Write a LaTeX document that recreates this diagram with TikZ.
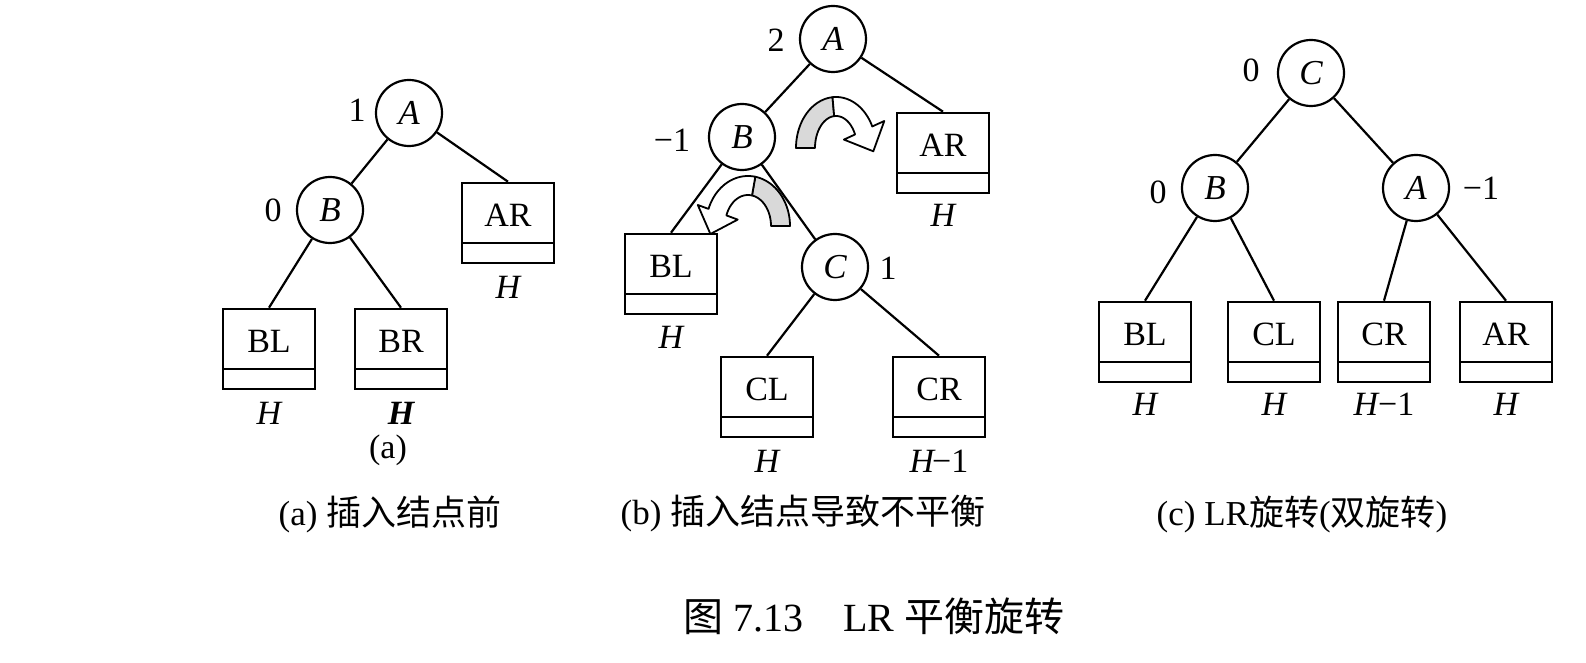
\documentclass[tikz,border=0pt]{standalone}
\usepackage{fontspec}
\setmainfont{Liberation Serif}
\newfontfamily\cjk{Noto Sans CJK SC}
\usetikzlibrary{calc}
\begin{document}
\begin{tikzpicture}[x=0.5pt,y=-0.5pt,
  every node/.style={font=\fontsize{17}{20}\selectfont},
  vert/.style={circle, draw, line width=1.1pt, minimum size=33pt, inner sep=0pt, font=\fontsize{17.5}{20}\selectfont\itshape},
  sub/.style={rectangle, draw, line width=1.3pt, minimum width=46pt, minimum height=40pt, inner sep=0pt,
    text height=12pt, text depth=8.8pt,
    path picture={\draw[line width=1.3pt] ([yshift=10pt]path picture bounding box.south west) -- ([yshift=10pt]path picture bounding box.south east);}},
  link/.style={line width=1.1pt},
  bal/.style={inner sep=0pt},
  ht/.style={inner sep=0pt, font=\fontsize{17}{20}\selectfont\itshape},
  captext/.style={inner sep=0pt, font=\fontsize{17.5}{20}\selectfont},
  ttl/.style={inner sep=0pt, font=\fontsize{20}{24}\selectfont},
  back/.style={fill=gray!30, draw, line width=0.9pt, line join=round},
  front/.style={fill=white, draw, line width=0.9pt, line join=round}
]
\useasboundingbox (0,0) rectangle (1586,663);

% ---------- (a) ----------
\node[vert] (aA) at (409,113) {A};
\node[vert] (aB) at (330,210) {B};
\node[sub] (aAR) at (508,223) {AR};
\node[sub] (aBL) at (269,349) {BL};
\node[sub] (aBR) at (401,349) {BR};
\node[bal] (aAb) at (357,110) {1};
\node[bal] (aBb) at (273,210) {0};
\node[ht] (aARh) at ([yshift=-11.5pt]aAR.south) {H};
\node[ht] (aBLh) at ([yshift=-11.5pt]aBL.south) {H};
\node[ht] (aBRh) at ([yshift=-11.5pt]aBR.south) {\bfseries H};
\node[bal] (alab) at (388,450) {(a)};
\draw[link] (aA) -- (aB);
\draw[link] (aA) -- (aAR.north);
\draw[link] (aB) -- (aBL.north);
\draw[link] (aB) -- (aBR.north);
\node[captext] (capa) at (390,514) {(a) {\cjk 插入结点前}};

% ---------- (b) ----------
\node[vert] (bA) at (833,39) {A};
\node[vert] (bB) at (742,137) {B};
\node[vert] (bC) at (835,267) {C};
\node[sub] (bAR) at (943,153) {AR};
\node[sub] (bBL) at (671,274) {BL};
\node[sub] (bCL) at (767,397) {CL};
\node[sub] (bCR) at (939,397) {CR};
\node[bal] (bAb) at (776,40) {2};
\node[bal] (bBb) at (672,140) {−1};
\node[bal] (bCb) at (888,268) {1};
\node[ht] (bARh) at ([yshift=-10.5pt]bAR.south) {H};
\node[ht] (bBLh) at ([yshift=-11pt]bBL.south) {H};
\node[ht] (bCLh) at ([yshift=-11.5pt]bCL.south) {H};
\node[ht] (bCRh) at ([yshift=-11.5pt]bCR.south) {H\kern-1pt\upshape −1};
\draw[link] (bA) -- (bB);
\draw[link] (bA) -- (bAR.north);
\draw[link] (bB) -- (bBL.north);
\draw[link] (bB) -- (bC);
\draw[link] (bC) -- (bCL.north);
\draw[link] (bC) -- (bCR.north);
% rotation arrow near A
\filldraw[back] plot[domain=180:95,samples=25] ({836+40*cos(\x)},{148-51*sin(\x)})
  -- plot[domain=95:180,samples=25] ({836+21*cos(\x)},{148-32*sin(\x)}) -- cycle;
\filldraw[front] plot[domain=95:25,samples=25] ({836+40*cos(\x)},{148-51*sin(\x)})
  -- (884.3,121.0) -- (873.3,151.3) -- (843.9,139.6)
  -- plot[domain=25:95,samples=25] ({836+21*cos(\x)},{148-32*sin(\x)}) -- cycle;
% rotation arrow near B
\filldraw[back] plot[domain=0:80,samples=25] ({748+42*cos(\x)},{226-50*sin(\x)})
  -- plot[domain=80:0,samples=25] ({748+23*cos(\x)},{226-31*sin(\x)}) -- cycle;
\filldraw[front] plot[domain=80:160,samples=25] ({748+42*cos(\x)},{226-50*sin(\x)})
  -- (697.8,205.0) -- (710.4,234) -- (737.7,219.6)
  -- plot[domain=160:80,samples=25] ({748+23*cos(\x)},{226-31*sin(\x)}) -- cycle;
\node[captext] (capb) at (803,514) {(b) {\cjk 插入结点导致不平衡}};

% ---------- (c) ----------
\node[vert] (cC) at (1311,73) {C};
\node[vert] (cB) at (1215,188) {B};
\node[vert] (cA) at (1416,188) {A};
\node[sub] (cBL) at (1145,342) {BL};
\node[sub] (cCL) at (1274,342) {CL};
\node[sub] (cCR) at (1384,342) {CR};
\node[sub] (cAR) at (1506,342) {AR};
\node[bal] (cCb) at (1251,70) {0};
\node[bal] (cBb) at (1158,192) {0};
\node[bal] (cAb) at (1481,188) {−1};
\node[ht] (cBLh) at ([yshift=-10.5pt]cBL.south) {H};
\node[ht] (cCLh) at ([yshift=-10.5pt]cCL.south) {H};
\node[ht] (cCRh) at ([yshift=-10.5pt]cCR.south) {H\upshape −1};
\node[ht] (cARh) at ([yshift=-10.5pt]cAR.south) {H};
\draw[link] (cC) -- (cB);
\draw[link] (cC) -- (cA);
\draw[link] (cB) -- (cBL.north);
\draw[link] (cB) -- (cCL.north);
\draw[link] (cA) -- (cCR.north);
\draw[link] (cA) -- (cAR.north);
\node[captext] (capc) at (1302,515) {(c) LR{\cjk 旋转}({\cjk 双旋转})};

% ---------- title ----------
\node[ttl] (title) at (874,616) {{\cjk 图} 7.13\quad LR {\cjk 平衡旋转}};
\end{tikzpicture}
\end{document}
